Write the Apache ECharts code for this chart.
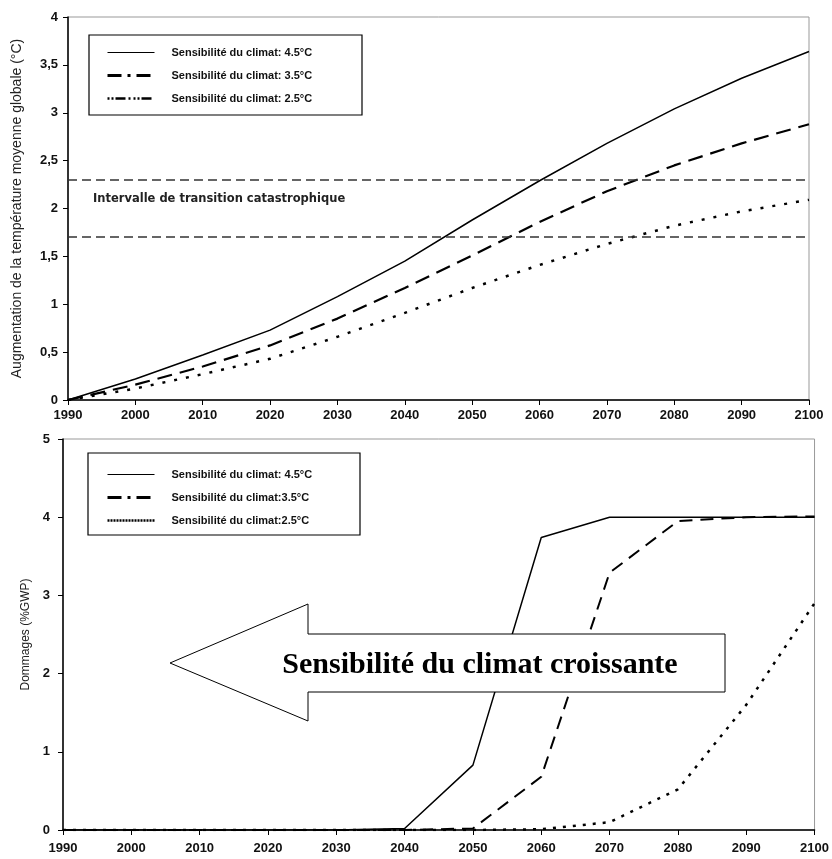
<!DOCTYPE html>
<html><head><meta charset="utf-8">
<script src="https://cdn.jsdelivr.net/npm/echarts@6/dist/echarts.min.js"></script>
<style>html,body{margin:0;padding:0;background:#fff}#c{width:832px;height:859px}</style>
</head><body><div id="c"></div>
<script>
const years = [1990,2000,2010,2020,2030,2040,2050,2060,2070,2080,2090,2100];
const tempNames = ['Sensibilité du climat: 4.5°C','Sensibilité du climat: 3.5°C','Sensibilité du climat: 2.5°C'];
const temp45 = [0,0.22,0.47,0.73,1.08,1.45,1.88,2.29,2.68,3.04,3.36,3.64];
const temp35 = [0,0.16,0.35,0.57,0.85,1.17,1.51,1.86,2.18,2.45,2.68,2.88];
const temp25 = [0,0.12,0.27,0.43,0.66,0.91,1.17,1.41,1.63,1.82,1.97,2.09];
const thresholds = [2.3, 1.7];
const thresholdLabel = 'Intervalle de transition catastrophique';
const dmgNames = ['Sensibilité du climat: 4.5°C ','Sensibilité du climat:3.5°C','Sensibilité du climat:2.5°C'];
const dmg45 = [0,0,0,0,0,0.02,0.83,3.74,4.0,4.0,4.0,4.0];
const dmg35 = [0,0,0,0,0,0,0.02,0.68,3.29,3.95,4.0,4.01];
const dmg25 = [0,0,0,0,0,0,0,0.01,0.1,0.52,1.6,2.9];
const arrowText = 'Sensibilité du climat croissante';
const tempTitle = 'Augmentation de la température moyenne globale (°C)';
const dmgTitle = 'Dommages (%GWP)';

const pair = a => years.map((y,i)=>[y,a[i]]);
const lab = {fontFamily:'Liberation Sans', fontWeight:'bold', fontSize:13, color:'#111'};
function xAx(gi, margin){
  return {type:'value', gridIndex:gi, min:1990, max:2100, interval:10,
    axisLine:{show:true, onZero:false, lineStyle:{color:'#000', width:1.5}},
    axisTick:{show:true, inside:false, length:5, lineStyle:{color:'#000'}},
    axisLabel:Object.assign({margin:margin, formatter:v=>String(v)}, lab), splitLine:{show:false}};
}
const chart = echarts.init(document.getElementById('c'), null, {renderer:'canvas'});
const lineBase = (name, data, xi, w, type) => ({
  name, type:'line', xAxisIndex:xi, yAxisIndex:xi, data:pair(data), symbol:'none',
  lineStyle:{color:'#000', width:w, type:type}, itemStyle:{color:'#000'}, animation:false, z:3
});
const dashHi = [15,8], dotT = [3,9];
const legendText = {fontFamily:'Liberation Sans', fontWeight:'bold', fontSize:11, color:'#111', padding:[0,0,0,12]};
const hideSym = {color:'rgba(0,0,0,0)', opacity:0, borderWidth:0};
const option = {
  animation:false,
  grid:[
    {left:68, right:23, top:17, bottom:459, show:true, borderColor:'#999', borderWidth:1},
    {left:63, right:15, top:439, bottom:29, show:true, borderColor:'#999', borderWidth:1}
  ],
  xAxis:[xAx(0,9), xAx(1,12)],
  yAxis:[
    {type:'value', gridIndex:0, min:0, max:4, interval:0.5,
      name:tempTitle, nameLocation:'middle', nameGap:44,
      nameTextStyle:{fontFamily:'Liberation Sans', fontSize:14, color:'#222'},
      axisLine:{show:true, lineStyle:{color:'#000', width:1.5}},
      axisTick:{show:true, length:5, lineStyle:{color:'#000'}},
      axisLabel:Object.assign({margin:10, formatter:v=>String(v).replace('.',',')}, lab),
      splitLine:{show:false}},
    {type:'value', gridIndex:1, min:0, max:5, interval:1,
      name:dmgTitle, nameLocation:'middle', nameGap:29,
      nameTextStyle:{fontFamily:'Liberation Sans', fontSize:12, color:'#222'},
      axisLine:{show:true, lineStyle:{color:'#000', width:1.5}},
      axisTick:{show:true, length:5, lineStyle:{color:'#000'}},
      axisLabel:Object.assign({margin:13}, lab),
      splitLine:{show:false}}
  ],
  legend:[
    {data:[
      {name:tempNames[0], lineStyle:{width:1.2}},
      {name:tempNames[1], lineStyle:{type:[14,6,3,6], width:3}},
      {name:tempNames[2], lineStyle:{type:[2,2,2,2,10,3,2,3], width:2.5}}],
     orient:'vertical', left:101, top:42, itemWidth:47, itemHeight:10, itemGap:12,
     itemStyle:hideSym, textStyle:legendText},
    {data:[
      {name:dmgNames[0], lineStyle:{width:1.2}},
      {name:dmgNames[1], lineStyle:{type:[14,6,3,6], width:3}},
      {name:dmgNames[2], lineStyle:{type:[2,1], width:2.5}}],
     orient:'vertical', left:101, top:464, itemWidth:47, itemHeight:10, itemGap:12,
     itemStyle:hideSym, textStyle:legendText}
  ],
  series:[
    Object.assign(lineBase(tempNames[0], temp45, 0, 1.5, 'solid'), {
      markLine:{silent:true, symbol:'none', label:{show:false},
        lineStyle:{color:'#333', width:1.5, type:[9,5]},
        data:thresholds.map(v=>({yAxis:v}))}}),
    lineBase(tempNames[1], temp35, 0, 2.2, dashHi),
    lineBase(tempNames[2], temp25, 0, 2.5, dotT),
    lineBase(dmgNames[0], dmg45, 1, 1.5, 'solid'),
    lineBase(dmgNames[1], dmg35, 1, 2, [13,8]),
    lineBase(dmgNames[2], dmg25, 1, 2.5, [3,7])
  ],
  graphic:[
    {type:'rect', shape:{x:89, y:35, width:273, height:80}, style:{fill:null, stroke:'#000', lineWidth:1.2}, z:10, silent:true},
    {type:'rect', shape:{x:88, y:453, width:272, height:82}, style:{fill:null, stroke:'#000', lineWidth:1.2}, z:10, silent:true},
    {type:'text', left:93, top:193, style:{text:thresholdLabel, font:'bold 11.5px "DejaVu Sans"', fill:'#222'}, z:10},
    {type:'polygon', shape:{points:[[170,663],[308,604],[308,634],[725,634],[725,692],[308,692],[308,721]]},
      style:{fill:'#fff', stroke:'#000', lineWidth:1}, z:20, silent:true},
    {type:'text', style:{text:arrowText, x:480, y:665, align:'center', verticalAlign:'middle',
      font:'bold 30px "Liberation Serif"', fill:'#000'}, z:21}
  ]
};
chart.setOption(option);
</script></body></html>
